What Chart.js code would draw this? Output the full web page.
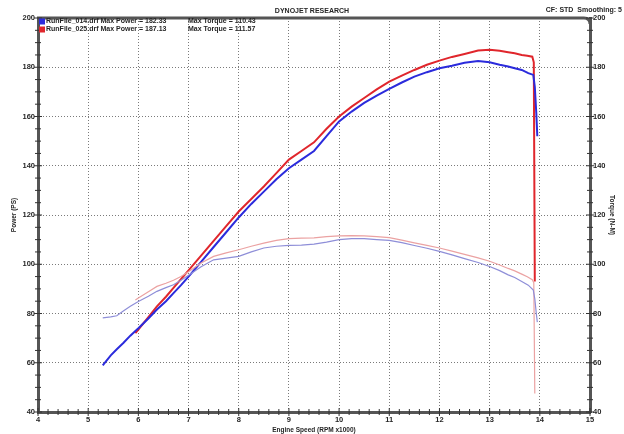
<!DOCTYPE html>
<html>
<head>
<meta charset="utf-8">
<script src="https://cdn.jsdelivr.net/npm/chart.js@4"></script>
<style>
  body { margin: 0; background: #fff; }
  #wrap { width: 624px; height: 434px; }
</style>
</head>
<body>
<div id="wrap"><canvas id="dynoChart"></canvas></div>
<script>
// RunFile_014 (blue)
const rpm014 = [5.29, 5.45, 5.57, 5.7, 5.84, 6.0, 6.2, 6.37, 6.55, 6.7, 6.85, 7.0, 7.25, 7.5, 7.75, 8.0, 8.25, 8.5, 8.75, 9.0, 9.25, 9.5, 9.75, 10.0, 10.25, 10.5, 10.75, 11.0, 11.25, 11.5, 11.75, 12.0, 12.25, 12.5, 12.77, 13.0, 13.2, 13.37, 13.5, 13.64, 13.77, 13.87, 13.9, 13.93, 13.95];
const power014 = [58.9, 63, 65.5, 68, 71, 74, 78, 81.6, 85, 88.3, 91.5, 95, 101, 107, 113, 119, 124.5, 129.5, 134.5, 139, 142.5, 146, 152, 158, 162, 165.5, 168.5, 171.2, 173.8, 176.2, 178, 179.6, 180.6, 181.8, 182.5, 182, 181, 180.3, 179.6, 178.9, 177.6, 176.9, 172, 161.3, 152];
const torque014 = [78.2, 78.6, 79.1, 81, 82.9, 84.9, 87, 89, 90.5, 91.7, 93.5, 95.5, 99, 101.8, 102.5, 103.2, 105, 106.6, 107.3, 107.7, 107.8, 108.2, 109, 110, 110.4, 110.4, 110, 109.7, 108.8, 107.6, 106.5, 105.2, 103.8, 102.3, 100.7, 99.1, 97.4, 95.7, 94.6, 93, 91.5, 89.5, 86, 80, 76.5];

// RunFile_025 (red)
const rpm025 = [5.94, 6.0, 6.2, 6.37, 6.55, 6.7, 6.85, 7.0, 7.25, 7.5, 7.75, 8.0, 8.25, 8.5, 8.75, 9.0, 9.25, 9.5, 9.75, 10.0, 10.25, 10.5, 10.75, 11.0, 11.25, 11.5, 11.75, 12.0, 12.25, 12.5, 12.77, 13.0, 13.2, 13.37, 13.5, 13.64, 13.75, 13.85, 13.88, 13.9];
const power025 = [72, 73.5, 78.5, 82.9, 86.8, 90.4, 94, 97.5, 103.5, 109.5, 115.5, 121.4, 126.5, 131.6, 137, 142.5, 146, 149.5, 155, 160, 164, 167.5, 171, 174.2, 176.6, 178.9, 181, 182.7, 184.2, 185.4, 186.8, 187.1, 186.7, 186.1, 185.7, 185, 184.7, 184.3, 182, 93];
const torque025 = [85.5, 86.3, 88.8, 91, 92.3, 93.5, 95, 97, 100.5, 103.2, 104.6, 105.9, 107.3, 108.6, 109.7, 110.4, 110.6, 110.7, 111.2, 111.5, 111.6, 111.5, 111.2, 110.8, 109.8, 108.7, 107.7, 106.6, 105.3, 104, 102.6, 101.2, 99.7, 98.3, 97.3, 96, 94.9, 93.7, 92.5, 47.5];

const legendLines = [
    { color: '#2b2bdc', run: 'RunFile_014.drf Max Power = 182.33', torque: 'Max Torque = 110.43' },
    { color: '#e0262c', run: 'RunFile_025.drf Max Power = 187.13', torque: 'Max Torque = 111.57' }
];

function pairs(xs, ys) {
    return xs.map((x, i) => ({ x: x, y: ys[i] }));
}

const frameColor = '#555';
const textColor = '#262626';

const decorations = {
    id: 'decorations',
    afterDraw(chart) {
        const { ctx, chartArea: a, scales } = chart;
        ctx.save();

        // top frame with rounded right corner
        ctx.strokeStyle = frameColor;
        ctx.lineWidth = 3;
        ctx.beginPath();
        ctx.moveTo(a.left - 1, a.top);
        ctx.lineTo(a.right - 6, a.top);
        ctx.quadraticCurveTo(a.right, a.top, a.right, a.top + 6);
        ctx.stroke();

        // minor ticks
        ctx.lineWidth = 1;
        ctx.strokeStyle = '#333';
        ctx.beginPath();
        for (let i = 0; i <= 55; i++) {
            const x = scales.x.getPixelForValue(4 + i * 0.2);
            const len = i % 5 === 0 ? 4 : 3;
            ctx.moveTo(x, a.bottom - len);
            ctx.lineTo(x, a.bottom + len);
        }
        for (let i = 0; i <= 32; i++) {
            const y = scales.y.getPixelForValue(40 + i * 5);
            const len = i % 4 === 0 ? 4 : 3;
            ctx.moveTo(a.left - len, y);
            ctx.lineTo(a.left + len, y);
            ctx.moveTo(a.right - len, y);
            ctx.lineTo(a.right + len, y);
        }
        ctx.stroke();

        // header
        ctx.fillStyle = textColor;
        ctx.font = 'bold 7px "Liberation Sans"';
        ctx.textBaseline = 'middle';
        ctx.textAlign = 'center';
        ctx.fillText('DYNOJET RESEARCH', 312, 11);
        ctx.textAlign = 'right';
        ctx.fillText('CF: STD  Smoothing: 5', 622, 10);

        // legend
        ctx.textAlign = 'left';
        legendLines.forEach((item, i) => {
            const y = 21.5 + i * 8;
            ctx.fillStyle = item.color;
            ctx.fillRect(39, y - 3, 6, 6);
            ctx.fillStyle = textColor;
            ctx.fillText(item.run, 46, y, 131);
            ctx.fillText(item.torque, 188, y, 75);
        });

        ctx.restore();
    }
};

const tickFont = { family: '"Liberation Sans"', size: 7.5, weight: 'bold' };
const titleFont = { family: '"Liberation Sans"', size: 6.5, weight: 'bold' };
const gridOpts = { color: '#7a7a7a', lineWidth: 1, drawTicks: false };

new Chart(document.getElementById('dynoChart'), {
    type: 'scatter',
    data: {
        datasets: [
            {
                label: 'Torque 014',
                data: pairs(rpm014, torque014),
                yAxisID: 'y2',
                borderColor: '#8e8ed8',
                borderWidth: 1.2
            },
            {
                label: 'Torque 025',
                data: pairs(rpm025, torque025),
                yAxisID: 'y2',
                borderColor: '#eba2a2',
                borderWidth: 1.2
            },
            {
                label: 'Power 014',
                data: pairs(rpm014, power014),
                yAxisID: 'y',
                borderColor: '#2b2bdc',
                borderWidth: 2
            },
            {
                label: 'Power 025',
                data: pairs(rpm025, power025),
                yAxisID: 'y',
                borderColor: '#e0262c',
                borderWidth: 2
            }
        ]
    },
    options: {
        responsive: true,
        maintainAspectRatio: false,
        animation: false,
        showLine: true,
        elements: {
            point: { radius: 0, hoverRadius: 0 },
            line: { tension: 0, fill: false }
        },
        layout: { padding: { top: 18, left: 0, right: 0, bottom: 0 } },
        plugins: {
            legend: { display: false },
            tooltip: { enabled: false }
        },
        scales: {
            x: {
                type: 'linear',
                min: 4,
                max: 15,
                afterFit: s => { s.height = 22; },
                ticks: { stepSize: 1, color: textColor, font: tickFont, padding: 3 },
                grid: gridOpts,
                border: { color: frameColor, width: 3, dash: [1, 2] },
                title: { display: true, text: 'Engine Speed (RPM x1000)', color: textColor, font: titleFont, padding: { top: 1, bottom: 0 } }
            },
            y: {
                position: 'left',
                min: 40,
                max: 200,
                afterFit: s => { s.width = 38; },
                ticks: { stepSize: 20, color: textColor, font: tickFont, padding: 3 },
                grid: gridOpts,
                border: { color: frameColor, width: 3, dash: [1, 2] },
                title: { display: true, text: 'Power (PS)', color: textColor, font: titleFont, padding: { top: 10, bottom: 0 } }
            },
            y2: {
                position: 'right',
                min: 40,
                max: 200,
                afterFit: s => { s.width = 34; },
                ticks: { stepSize: 20, color: textColor, font: tickFont, padding: 3 },
                grid: { drawOnChartArea: false, drawTicks: false },
                border: { color: frameColor, width: 3 },
                title: { display: true, text: 'Torque (N-M)', color: textColor, font: titleFont, padding: { top: 8, bottom: 0 } }
            }
        }
    },
    plugins: [decorations]
});
</script>
</body>
</html>
